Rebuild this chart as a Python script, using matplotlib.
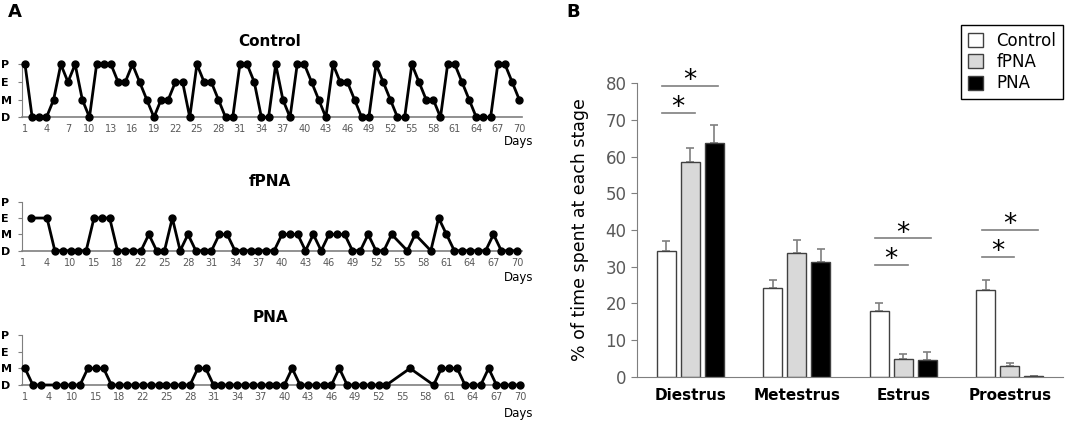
import numpy as np
import matplotlib
matplotlib.use('Agg')
import matplotlib.pyplot as plt

# stage codes: D=0, M=1, E=2, P=3 ; None = missing day (line continues over it)
control = [3, 0, 0, 0, 1, 3, 2, 3, 1, 0,
           3, 3, 3, 2, 2, 3, 2, 1, 0, 1,
           1, 2, 2, 0, 3, 2, 2, 1, 0, 0,
           3, 3, 2, 0, 0, 3, 1, 0, 3, 3,
           2, 1, 0, 3, 2, 2, 1, 0, 0, 3,
           2, 1, 0, 0, 3, 2, 1, 1, 0, 3,
           3, 2, 1, 0, 0, 0, 3, 3, 2, 1]
fpna = [None, 2, None, 2, 0, 0, 0, 0, 0, 2,
        2, 2, 0, 0, 0, 0, 1, 0, 0, 2,
        0, 1, 0, 0, 0, 1, 1, 0, 0, 0,
        0, 0, 0, 1, 1, 1, 0, 1, 0, 1,
        1, 1, 0, 0, 1, 0, 0, 1, None, 0,
        1, None, 0, 2, 1, 0, 0, 0, 0, 0,
        1, 0, 0, 0]
pna = [1, 0, 0, None, 0, 0, 0, 0, 1, 1,
       1, 0, 0, 0, 0, 0, 0, 0, 0, 0,
       0, 0, 1, 1, 0, 0, 0, 0, 0, 0,
       0, 0, 0, 0, 1, 0, 0, 0, 0, 0,
       1, 0, 0, 0, 0, 0, 0, None, None, 1,
       None, None, 0, 1, 1, 1, 0, 0, 0, 1,
       0, 0, 0, 0]

control_days = [str(d) for d in range(1, 71, 3)]
pna_days = ['1', '4', '10', '15', '18', '22', '25', '28', '31', '34', '37',
            '40', '43', '46', '49', '52', '55', '58', '61', '64', '67', '70']
stage_labels = ['D', 'M', 'E', 'P']

# bar chart data
stages = ['Diestrus', 'Metestrus', 'Estrus', 'Proestrus']
groups = ['Control', 'fPNA', 'PNA']
means = {'Control': [34.3, 24.2, 17.9, 23.7],
         'fPNA': [58.6, 33.8, 4.8, 3.0],
         'PNA': [63.7, 31.4, 4.6, 0.2]}
errs = {'Control': [2.7, 2.2, 2.2, 2.7],
        'fPNA': [3.7, 3.5, 1.5, 0.8],
        'PNA': [4.9, 3.3, 2.2, 0.1]}
# significance bars: (stage index, group from, group to, height)
sig = [(0, 0, 1, 72), (0, 0, 2, 79.4),
       (2, 0, 1, 30.4), (2, 0, 2, 37.7),
       (3, 0, 1, 32.7), (3, 0, 2, 40.0)]

W, H = 1065, 421
fig = plt.figure(figsize=(W / 100, H / 100), dpi=100)

def px_axes(left, right, top, bottom):
    return fig.add_axes([left / W, 1 - bottom / H, (right - left) / W, (bottom - top) / H])

gray = '#7f7f7f'
tgray = '#595959'

def stage_plot(ax, vals, labels, xlim, title, title_y, days_y):
    x = [i for i, v in enumerate(vals) if v is not None]
    y = [v for v in vals if v is not None]
    ax.plot(x, y, color='black', lw=2, marker='o', ms=5, clip_on=False, zorder=3)
    ax.set_xlim(xlim)
    ax.set_ylim(0, 3)
    ax.set_xticks(range(0, len(vals), 3))
    ax.set_xticklabels(labels, color=tgray, fontsize=7)
    ax.tick_params(axis='x', length=0, pad=5)
    ax.set_yticks([0, 1, 2, 3])
    ax.set_yticklabels(stage_labels, fontsize=8, fontweight='bold', ha='left')
    ax.tick_params(axis='y', length=3, color=gray, pad=12)
    for s in ['top', 'right']:
        ax.spines[s].set_visible(False)
    ax.spines['left'].set_color(gray)
    ax.spines['bottom'].set_color(gray)
    ax.spines['bottom'].set_linewidth(1.2)
    ax.patch.set_alpha(0)
    fig.text(270 / W, 1 - title_y / H, title, ha='center', va='center',
             fontsize=11, fontweight='bold')
    fig.text(533 / W, 1 - days_y / H, 'Days', ha='right', va='center', fontsize=8.5)

ax1 = px_axes(21.7, 522, 64.3, 117.3)
stage_plot(ax1, control, control_days, (-0.46, 69.38), 'Control', 42, 141)
ax2 = px_axes(21.7, 522, 201.7, 250.7)
stage_plot(ax2, fpna, pna_days, (-0.23, 63.64), 'fPNA', 182, 278)
ax3 = px_axes(21.7, 522, 335, 385)
stage_plot(ax3, pna, pna_days, (-0.42, 63.25), 'PNA', 317, 414)

# panel B
axb = px_axes(637, 1063, 83.3, 376.7)
colors = ['white', '#d9d9d9', 'black']
offs = [-0.225, 0, 0.225]
xs = np.arange(len(stages))
for g, c, o in zip(groups, colors, offs):
    axb.bar(xs + o, means[g], width=0.18, color=c, edgecolor='#404040', lw=1,
            label=g, zorder=2)
    axb.errorbar(xs + o, means[g], yerr=[np.zeros(4), errs[g]], fmt='none',
                 ecolor=gray, elinewidth=1.2, capsize=3, capthick=1.2, zorder=1)
for st, g1, g2, h in sig:
    x1 = st + offs[g1] - 0.04
    x2 = st + offs[g2] + 0.04
    axb.plot([x1, x2], [h, h], color=gray, lw=1.2, clip_on=False)
    axb.annotate('*', ((x1 + x2) / 2, h), xytext=(0, -1.5), textcoords='offset points',
                 ha='center', va='baseline', fontsize=19, annotation_clip=False)
axb.set_xlim(-0.5, 3.5)
axb.set_ylim(0, 80)
axb.set_yticks(range(0, 81, 10))
axb.tick_params(axis='y', colors=gray, labelcolor=tgray, labelsize=12, length=4)
axb.set_xticks(xs)
axb.set_xticklabels(stages, fontsize=11, fontweight='bold')
axb.tick_params(axis='x', length=0, pad=8)
for s in ['top', 'right']:
    axb.spines[s].set_visible(False)
axb.spines['left'].set_color(gray)
axb.spines['bottom'].set_color(gray)
axb.set_ylabel('% of time spent at each stage', fontsize=12.5, labelpad=12)
leg = fig.legend(loc='upper right', bbox_to_anchor=(1063 / W, 1 - 25 / H),
                 fontsize=12, fancybox=False, edgecolor='black', framealpha=1,
                 handlelength=0.9, handleheight=0.9, handletextpad=0.8,
                 borderpad=0.4, labelspacing=0.2, borderaxespad=0)
leg.get_frame().set_linewidth(1)

fig.text(8 / W, 1 - 12 / H, 'A', fontsize=13, fontweight='bold', va='center')
fig.text(566 / W, 1 - 12 / H, 'B', fontsize=13, fontweight='bold', va='center')

fig.savefig('out.png', dpi=100)
